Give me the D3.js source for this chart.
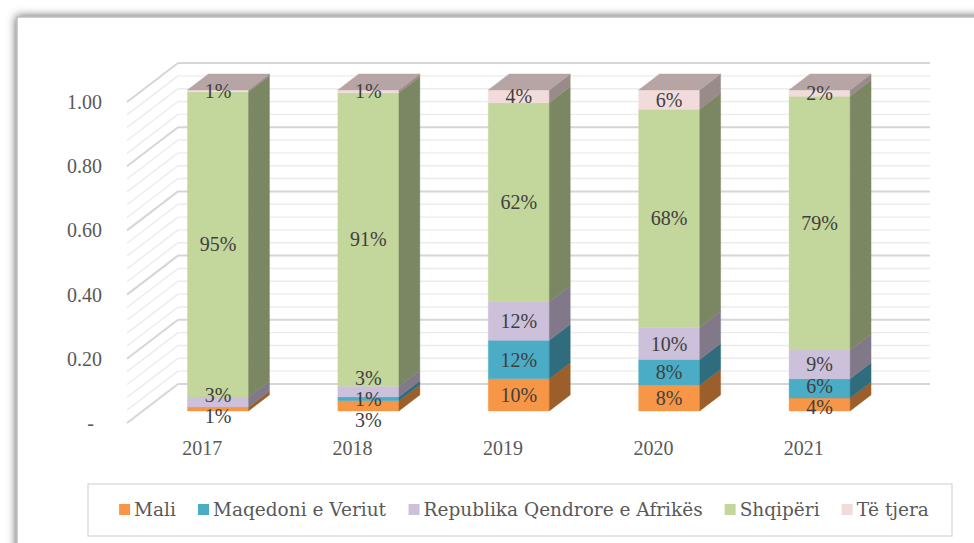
<!DOCTYPE html>
<html>
<head>
<meta charset="utf-8">
<script src="https://cdn.jsdelivr.net/npm/d3@7"></script>
<style>
body { margin: 0; background: #fff; }
text { font-family: "Liberation Serif", "DejaVu Serif", serif; }
.legend text { font-family: "DejaVu Serif", serif; }
</style>
</head>
<body>
<svg id="chart" width="974" height="543"></svg>
<script>
var years = ["2017", "2018", "2019", "2020", "2021"];
var seriesNames = ["Mali", "Maqedoni e Veriut", "Republika Qendrore e Afrikës", "Shqipëri", "Të tjera"];
var mali      = [0.012, 0.032, 0.10, 0.08, 0.04];
var maqedoni  = [0.000, 0.012, 0.12, 0.08, 0.06];
var republika = [0.031, 0.033, 0.12, 0.10, 0.09];
var shqiperi  = [0.951, 0.914, 0.62, 0.68, 0.79];
var teTjera   = [0.006, 0.009, 0.04, 0.06, 0.02];
var yTicks = [0, 0.2, 0.4, 0.6, 0.8, 1.0];
var colors = ["#F79646", "#4BACC6", "#CCC0DA", "#C3D69B", "#F2DCDB"];

var series = [mali, maqedoni, republika, shqiperi, teTjera];

var svg = d3.select("#chart");

// frame with soft shadow
var defs = svg.append("defs");
var f = defs.append("filter").attr("id", "shadow")
    .attr("x", "-5%").attr("y", "-5%").attr("width", "110%").attr("height", "110%");
f.append("feDropShadow").attr("dx", 0).attr("dy", 0)
    .attr("stdDeviation", 5).attr("flood-color", "#555").attr("flood-opacity", 1);

svg.append("rect")
    .attr("x", 17).attr("y", 17).attr("width", 1100).attr("height", 700)
    .attr("fill", "#fff").attr("stroke", "#bdbdbd").attr("stroke-width", 1.5)
    .attr("filter", "url(#shadow)");

// oblique 3d: front plane scales + depth vector of the walls
var wallDx = 51, wallDy = -39;
var zFront = 0.31, zBack = 0.72;   // bar depth as fraction of the floor depth

var x = d3.scaleBand().domain(years).range([127, 879]).paddingInner(0.594).paddingOuter(0.297);
var y = d3.scaleLinear().domain([0, 1]).range([423, 102]);

var grid = svg.append("g");
var minor = d3.range(0, 1.0001, 0.04);
minor.forEach(function(v) {
    var major = Math.abs(v * 5 - Math.round(v * 5)) < 1e-6;
    var c = major ? "#d6d6d6" : "#ececec";
    var w = major ? 2 : 1.4;
    grid.append("line")
        .attr("x1", x.range()[0]).attr("y1", y(v))
        .attr("x2", x.range()[0] + wallDx).attr("y2", y(v) + wallDy)
        .attr("stroke", c).attr("stroke-width", w);
    grid.append("line")
        .attr("x1", x.range()[0] + wallDx).attr("y1", y(v) + wallDy)
        .attr("x2", x.range()[1] + wallDx).attr("y2", y(v) + wallDy)
        .attr("stroke", c).attr("stroke-width", w);
});

// y axis labels
svg.append("g").selectAll("text")
    .data(yTicks)
    .enter()
    .append("text")
    .attr("x", function(d) { return d === 0 ? 94 : 102; })
    .attr("y", function(d) { return y(d); })
    .attr("dy", "0.35em")
    .attr("text-anchor", "end")
    .attr("font-size", 20)
    .attr("fill", "#595959")
    .text(function(d) { return d === 0 ? "-" : d3.format(".2f")(d); });

// category labels
svg.append("g").selectAll("text")
    .data(years)
    .enter()
    .append("text")
    .attr("x", function(d) { return x(d) + x.bandwidth() / 2; })
    .attr("y", 455)
    .attr("text-anchor", "middle")
    .attr("font-size", 20)
    .attr("fill", "#595959")
    .text(function(d) { return d; });

function shade(c, k) {
    var r = d3.rgb(c);
    return d3.rgb(r.r * k, r.g * k, r.b * k).toString();
}
function pts(a) { return a.map(function(p) { return p[0] + "," + p[1]; }).join(" "); }

var offX = wallDx * zFront, offY = wallDy * zFront;
var depX = wallDx * (zBack - zFront), depY = wallDy * (zBack - zFront);
var pct = d3.format(".0%");

var bars = svg.append("g");
var labelLayer = svg.append("g");

years.forEach(function(yr, i) {
    var xl = x(yr) + offX, xr = xl + x.bandwidth();
    var g = bars.append("g");
    var base = 0;
    var labels = [];
    series.forEach(function(s, k) {
        var v = s[i];
        var y0 = y(base) + offY, y1 = y(base + v) + offY;
        base += v;
        if (v <= 0) return;
        g.append("polygon")
            .attr("points", pts([[xl, y0], [xr, y0], [xr, y1], [xl, y1]]))
            .attr("fill", colors[k]).attr("stroke", colors[k]).attr("stroke-width", 0.4);
        g.append("polygon")
            .attr("points", pts([[xr, y0], [xr + depX, y0 + depY], [xr + depX, y1 + depY], [xr, y1]]))
            .attr("fill", shade(colors[k], 0.63)).attr("stroke", shade(colors[k], 0.63)).attr("stroke-width", 0.4);
        labels.push({ text: pct(v), y: (y0 + y1) / 2 });
    });
    // top face of the stack
    var yt = y(base) + offY;
    var topColor = colors[series.length - 1];
    g.append("polygon")
        .attr("points", pts([[xl, yt], [xr, yt], [xr + depX, yt + depY], [xl + depX, yt + depY]]))
        .attr("fill", shade(topColor, 0.75)).attr("stroke", shade(topColor, 0.75)).attr("stroke-width", 0.4);

    // spread labels that overlap
    var gap = 21;
    for (var it = 0; it < 80; it++) {
        for (var j = 1; j < labels.length; j++) {
            var d = labels[j - 1].y - labels[j].y;
            if (d < gap) {
                var m = (gap - d) / 2;
                labels[j - 1].y += m;
                labels[j].y -= m;
            }
        }
    }
    labelLayer.selectAll(null)
        .data(labels)
        .enter()
        .append("text")
        .attr("x", (xl + xr) / 2)
        .attr("y", function(d) { return d.y; })
        .attr("dy", "0.35em")
        .attr("text-anchor", "middle")
        .attr("font-size", 20)
        .attr("fill", "#404040")
        .text(function(d) { return d.text; });
});

// legend
svg.append("rect")
    .attr("x", 88).attr("y", 484).attr("width", 864).attr("height", 52)
    .attr("fill", "#fff").attr("stroke", "#d9d9d9").attr("stroke-width", 1.3);

var legend = svg.append("g").attr("class", "legend");
var items = legend.selectAll("g")
    .data(seriesNames)
    .enter()
    .append("g");
items.append("rect")
    .attr("width", 11).attr("height", 11)
    .attr("y", -12)
    .attr("fill", function(d, i) { return colors[i]; });
items.append("text")
    .attr("x", 15)
    .attr("font-size", 18.5)
    .attr("fill", "#595959")
    .text(function(d) { return d; });

var widths = [];
items.each(function() { widths.push(this.getBBox().width); });
var total = d3.sum(widths) + 22 * (widths.length - 1);
var cx = 524 - total / 2;
items.attr("transform", function(d, i) {
    var tx = cx;
    cx += widths[i] + 22;
    return "translate(" + tx + ",516)";
});
</script>
</body>
</html>
